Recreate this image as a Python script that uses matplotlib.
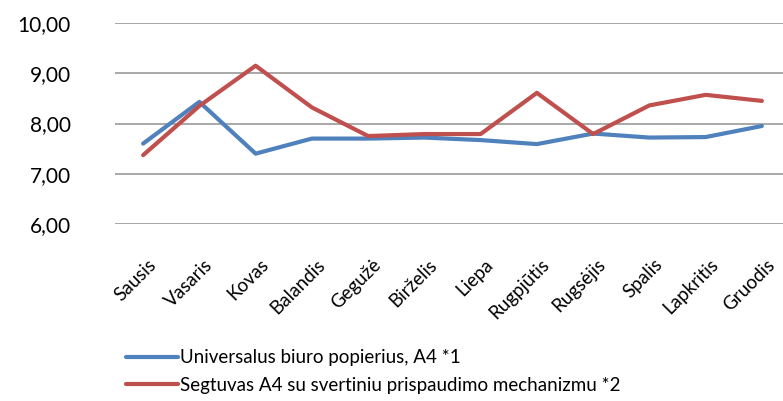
import matplotlib
matplotlib.use('Agg')
import matplotlib.pyplot as plt
from matplotlib.transforms import ScaledTranslation

plt.rcParams['font.family'] = ['Lato', 'DejaVu Sans']

months = ['Sausis', 'Vasaris', 'Kovas', 'Balandis', 'Gegužė', 'Birželis',
          'Liepa', 'Rugpjūtis', 'Rugsėjis', 'Spalis', 'Lapkritis', 'Gruodis']
paper = [7.60, 8.43, 7.40, 7.70, 7.70, 7.72, 7.67, 7.59, 7.80, 7.72, 7.73, 7.95]
binder = [7.37, 8.35, 9.15, 8.32, 7.75, 7.79, 7.79, 8.61, 7.79, 8.36, 8.57, 8.45]
labels = ['Universalus biuro popierius, A4 *1',
          'Segtuvas A4 su svertiniu prispaudimo mechanizmu *2']
yticks = [6, 7, 8, 9, 10]

fig = plt.figure(figsize=(7.83, 4.01), dpi=100)
ax = fig.add_axes([115 / 783, 177 / 401, 675 / 783, 201 / 401])

x = list(range(len(months)))
l1, = ax.plot(x, paper, color='#4F81BD', linewidth=3, solid_capstyle='round')
l2, = ax.plot(x, binder, color='#C0504D', linewidth=3, solid_capstyle='round')

ax.set_xlim(-0.5, len(months) - 0.5)
ax.set_ylim(6, 10)
ax.set_yticks(yticks)
ax.set_yticklabels([f'{v:.2f}'.replace('.', ',') for v in yticks], fontsize=15)
ax.yaxis.grid(True, color='#999999', linewidth=1.2)
ax.set_axisbelow(True)
for s in ax.spines.values():
    s.set_visible(False)
ax.tick_params(axis='y', length=0, pad=32)
ax.tick_params(axis='x', length=0, pad=0)
ax.set_xticks(x)
ax.set_xticklabels(months, fontsize=13.5, rotation=45, ha='right', va='top',
                   rotation_mode='anchor')
# push month labels down/right like the original
off = ScaledTranslation(4 / 100, -32 / 100, fig.dpi_scale_trans)
for lab in ax.get_xticklabels():
    lab.set_transform(lab.get_transform() + off)

fig.legend([l1, l2], labels, loc='upper left', bbox_to_anchor=(118 / 783, 1 - 342 / 401),
           frameon=False, fontsize=13.5, handlelength=2.8, handletextpad=0.1,
           labelspacing=0.55, borderaxespad=0)

fig.savefig('out.png', dpi=100)
